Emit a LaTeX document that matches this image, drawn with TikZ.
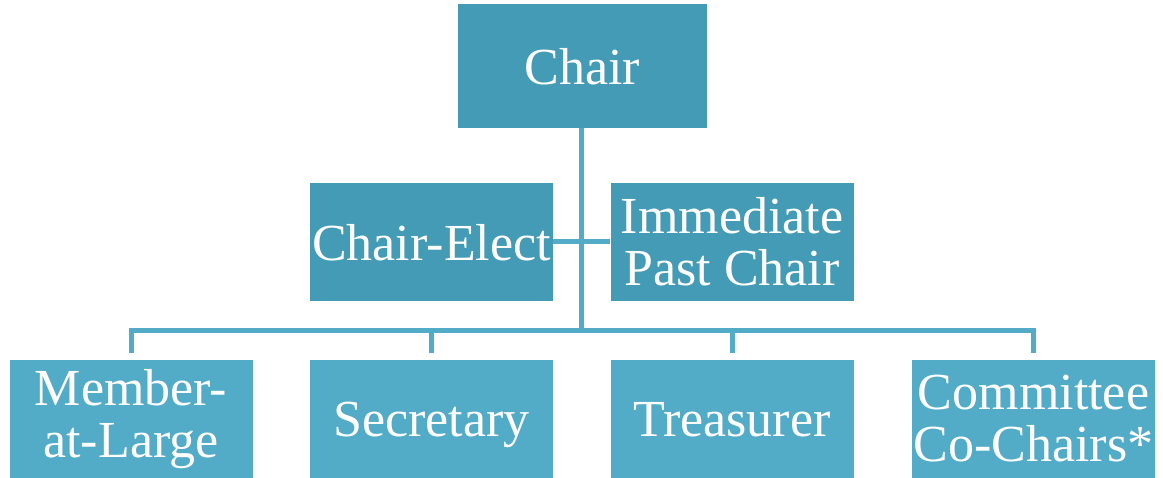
\documentclass[tikz,border=0pt]{standalone}
\usepackage{fontspec}
\setmainfont{Liberation Serif}
\definecolor{upperfill}{RGB}{68,155,181}
\definecolor{lowerfill}{RGB}{82,172,199}
\definecolor{linkcol}{RGB}{82,172,199}
\begin{document}
\begin{tikzpicture}[x=1pt,y=-1pt,
  card/.style={rectangle, inner sep=0pt, minimum width=243pt, minimum height=118pt,
    text=white, align=center, font=\fontsize{52}{52}\selectfont},
  upper/.style={card, fill=upperfill},
  lower/.style={card, fill=lowerfill},
  oneline/.style={text depth=0pt},
  link/.style={draw=linkcol, line width=5pt, line join=miter}]
\useasboundingbox (0,0) rectangle (1163,478);

% officers
\node[upper, oneline, minimum width=249pt, minimum height=124pt] (chair) at (582.5,66) {Chair};
\node[upper, oneline] (elect) at (431.5,242) {Chair-Elect};
\node[upper] (past) at (732,242) {Immediate\\Past Chair};

% board members
\node[lower] (mal) at (131,419) {Member-\\at-Large};
\node[lower, oneline] (sec) at (431.5,419) {Secretary};
\node[lower, oneline] (tre) at (732,419) {Treasurer};
\node[lower] (com) at (1033.5,419) {Committee\\Co-Chairs*};

\coordinate (bar) at (581,330.5);

% connectors
\draw[link] (elect.east) -- (past.west);
\draw[link] (chair.south -| bar) -- (bar);
\draw[link] ([yshift=7pt]mal.north) -- (mal.north |- bar) -- (com.north |- bar) -- ([yshift=7pt]com.north);
\draw[link] ([yshift=7pt]sec.north) -- (sec.north |- bar);
\draw[link] ([yshift=7pt]tre.north) -- (tre.north |- bar);
\end{tikzpicture}
\end{document}
